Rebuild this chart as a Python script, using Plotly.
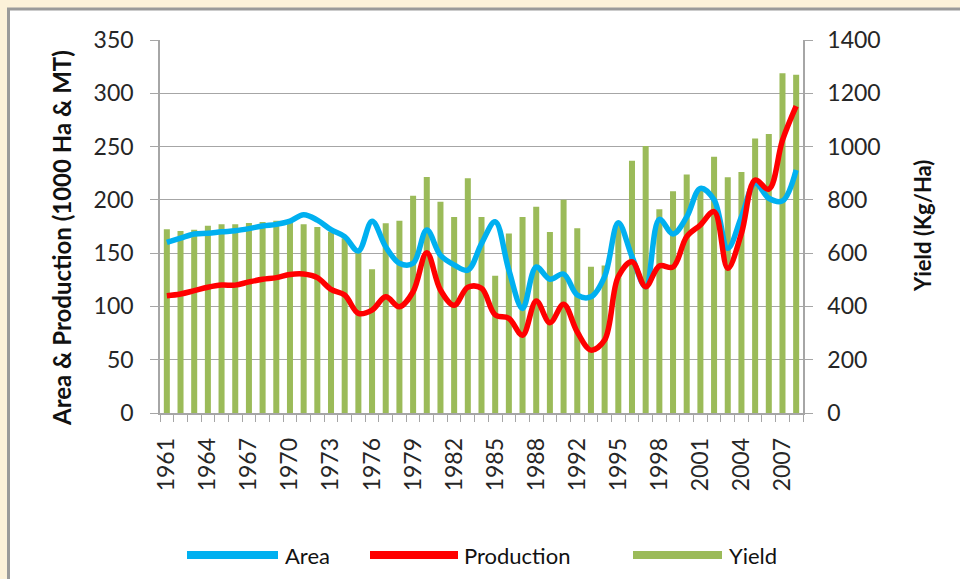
import plotly.graph_objects as go

# ---------------- data ----------------
years = [str(y) for y in range(1961, 2009) if y != 1991]

area = [160, 164, 168, 168.6, 170, 171, 173, 175.5, 177, 180, 186, 181, 172, 165.5, 152, 180,
        156, 140.5, 140.5, 171.7, 148, 139, 134, 159, 179.5, 134, 98, 137, 125.5, 130.4, 110.7, 109,
        128, 178.6, 146.7, 118.5, 181.7, 168, 184, 210.8, 200, 154.5, 184, 215.5, 201.5, 199, 228]

production = [110, 111.7, 114.8, 118, 120, 120, 123, 125.5, 127, 130, 130.4, 127, 116, 110.7, 93.5, 96.6,
              109, 99.7, 113.8, 150.4, 115.4, 101, 118, 117, 92, 88.8, 73, 105, 84.7, 102, 76, 59,
              68.5, 128, 142, 118.5, 138, 137, 165.5, 176.4, 189, 135.8, 168.6, 218.6, 210, 256, 288]

yield_ = [690, 683, 688, 703, 708, 708, 713, 717, 722, 717, 708, 698, 680, 656, 615, 540,
          712, 722, 815, 886, 793, 736, 881, 736, 515, 674, 736, 774, 679, 800, 693, 549,
          554, 718, 947, 1002, 765, 832, 895, 840, 962, 885, 905, 1030, 1047, 1275, 1270]

left_ticks = [0, 50, 100, 150, 200, 250, 300, 350]
right_ticks = [0, 200, 400, 600, 800, 1000, 1200, 1400]
label_every = 3

# ---------------- styling ----------------
BLUE = "#00B0F0"
RED = "#FF0000"
GREEN = "#9BBB59"
GRID = "#A6A6A6"
TXT = "#262626"
FONT = "Lato"

W, H = 960, 579
L, R, T, B = 160, 803, 40, 413  # plot area pixel box


def px_x(x):
    return (x - L) / (R - L)


def px_y(y):
    return (B - y) / (B - T)


xi = list(range(len(years)))
tickvals = xi[::label_every]
ticktext = years[::label_every]

fig = go.Figure()

fig.add_trace(go.Bar(x=xi, y=yield_, name="Yield", marker=dict(color=GREEN, line=dict(width=0)),
                     width=0.44, yaxis="y", showlegend=False))
fig.add_trace(go.Scatter(x=xi, y=area, name="Area", mode="lines",
                         line=dict(color=BLUE, width=5.5, shape="spline", smoothing=1),
                         yaxis="y2", showlegend=False))
fig.add_trace(go.Scatter(x=xi, y=production, name="Production", mode="lines",
                         line=dict(color=RED, width=5.5, shape="spline", smoothing=1),
                         yaxis="y2", showlegend=False))

fig.update_layout(
    width=W, height=H,
    margin=dict(l=L, r=W - R, t=T, b=H - B, pad=0),
    paper_bgcolor="#FCF1D9",
    plot_bgcolor="rgba(0,0,0,0)",
    font=dict(family=FONT, size=23, color=TXT),
    bargap=0.5,
    xaxis=dict(
        range=[-0.5, len(years) - 0.5],
        tickmode="array", tickvals=tickvals, ticktext=ticktext,
        tickangle=-90, ticks="", ticklabelstandoff=14,
        showgrid=False, zeroline=False,
        showline=True, linecolor=GRID, linewidth=1.5,
        minor=dict(tickmode="array", tickvals=[i - 0.5 for i in range(len(years) + 1)],
                   ticks="outside", ticklen=7, tickcolor=GRID, tickwidth=1.2, showgrid=False),
        tickfont=dict(size=23, color=TXT),
    ),
    yaxis=dict(
        side="right", range=[0, 1400], tickvals=right_ticks,
        ticks="outside", ticklen=8, tickcolor=GRID, tickwidth=1.3,
        showgrid=True, gridcolor=GRID, gridwidth=1.3,
        zeroline=False, showline=True, linecolor=GRID, linewidth=1.5,
        ticklabelstandoff=10,
        tickfont=dict(size=23, color=TXT),
    ),
    yaxis2=dict(
        side="left", overlaying="y", range=[0, 350], tickvals=left_ticks,
        ticks="outside", ticklen=8, tickcolor=GRID, tickwidth=1.3,
        showgrid=False, zeroline=False, showline=True, linecolor=GRID, linewidth=1.5,
        ticklabelstandoff=12,
        tickfont=dict(size=23, color=TXT),
    ),
)

# white panel with grey frame
fig.add_shape(type="rect", xref="paper", yref="paper", layer="below",
              x0=px_x(8.5), x1=px_x(975), y0=px_y(600), y1=px_y(9),
              fillcolor="white", line=dict(color="#9A9A9A", width=3))

# axis titles
fig.add_annotation(text="Area & Production (1000 Ha & MT)", xref="paper", yref="paper",
                   x=px_x(61), y=px_y(238), textangle=-90, showarrow=False,
                   xanchor="center", yanchor="middle",
                   font=dict(family=FONT, size=24, color="#111111", weight="bold"))
fig.add_annotation(text="Yield (Kg/Ha)", xref="paper", yref="paper",
                   x=px_x(922), y=px_y(226), textangle=-90, showarrow=False,
                   xanchor="center", yanchor="middle",
                   font=dict(family=FONT, size=22, color="#111111", weight="bold"))

# custom legend (wide line keys like the original)
legend_items = [("Area", BLUE, 187, 278, 283), ("Production", RED, 370, 458, 462), ("Yield", GREEN, 633, 722, 727)]
ly = 555
for name, col, x0, x1, tx in legend_items:
    fig.add_shape(type="line", xref="paper", yref="paper",
                  x0=px_x(x0), x1=px_x(x1), y0=px_y(ly), y1=px_y(ly),
                  line=dict(color=col, width=8))
    fig.add_annotation(text=name, xref="paper", yref="paper", x=px_x(tx), y=px_y(ly),
                       xanchor="left", yanchor="middle", showarrow=False,
                       font=dict(family=FONT, size=22, color="#111111"))

fig.write_html("out.html", config={"displayModeBar": False},
               post_script="document.body.style.margin='0';document.body.style.overflow='hidden';")
